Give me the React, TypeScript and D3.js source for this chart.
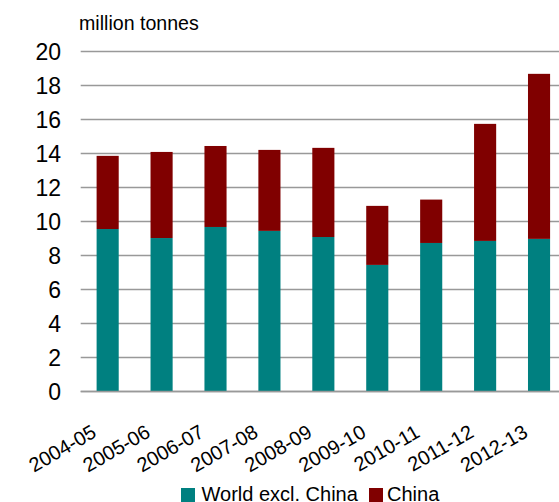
import React from "react";
import * as d3 from "d3";

const categories = ["2004-05", "2005-06", "2006-07", "2007-08", "2008-09", "2009-10", "2010-11", "2011-12", "2012-13"];
const worldExclChina = [9.52, 8.99, 9.64, 9.41, 9.05, 7.41, 8.7, 8.82, 8.94];
const china = [4.3, 5.06, 4.76, 4.76, 5.24, 3.47, 2.55, 6.88, 9.7];
const yTicks = [0, 2, 4, 6, 8, 10, 12, 14, 16, 18, 20];
const seriesNames = ["World excl. China", "China"];
const seriesColors = ["#008080", "#800000"];

const W = 559;
const H = 502;
const FONT = "'Liberation Sans', Arial, sans-serif";

export default function App() {
  const x = d3.scaleBand<string>().domain(categories).range([80.7, 566]).paddingInner(0.59).paddingOuter(0.295);
  const y = d3.scaleLinear().domain([0, 20]).range([391, 50.7]);

  const rows = categories.map((c, i) => ({ c, w: worldExclChina[i], ch: china[i] }));
  const stack = d3.stack<any>().keys(["w", "ch"])(rows);

  return (
    <svg width={W} height={H} style={{ position: "absolute", left: 0, top: 0, background: "#fff" }} fontFamily={FONT}>
      <text x={79} y={30} fontSize={19.6} fill="#000">million tonnes</text>
      {yTicks.map((t) => (
        <g key={t}>
          <line x1={80.7} x2={W} y1={Math.round(y(t)) + 0.5} y2={Math.round(y(t)) + 0.5} stroke="#999999" strokeWidth={1.6} />
          <text x={61} y={y(t) + 1} dy="0.36em" textAnchor="end" fontSize={23} fill="#000">{t}</text>
        </g>
      ))}
      {stack.map((s, si) => (
        <g key={si} fill={seriesColors[si]}>
          {s.map((d, i) => (
            <rect key={i} x={x(categories[i])} width={x.bandwidth()} y={y(d[1])} height={y(d[0]) - y(d[1])} />
          ))}
        </g>
      ))}
      <line x1={80.7} x2={W} y1={Math.round(y(0)) + 0.5} y2={Math.round(y(0)) + 0.5} stroke="#999999" strokeWidth={1.6} />
      {categories.map((c) => (
        <text key={c} transform={`translate(${(x(c) as number) + x.bandwidth() / 2 - 10},436) rotate(-30)`} textAnchor="end" fontSize={20} fill="#000">{c}</text>
      ))}
      <g>
        <rect x={181} y={488} width={14} height={14} fill={seriesColors[0]} />
        <text x={201.5} y={501} fontSize={20} fill="#000">{seriesNames[0]}</text>
        <rect x={369} y={488} width={14} height={14} fill={seriesColors[1]} />
        <text x={387} y={501} fontSize={20} fill="#000">{seriesNames[1]}</text>
      </g>
    </svg>
  );
}
